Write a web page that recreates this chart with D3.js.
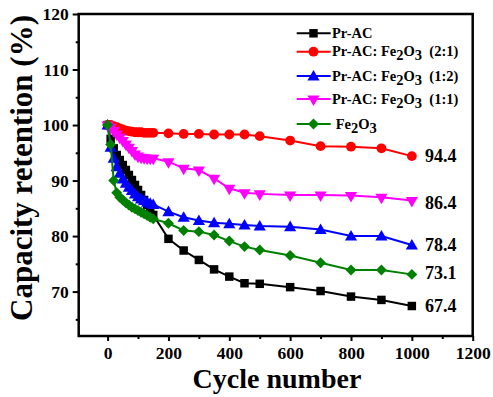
<!DOCTYPE html>
<html>
<head>
<meta charset="utf-8">
<script src="https://cdn.jsdelivr.net/npm/d3@7"></script>
<style>
  body { margin: 0; background: #fff; }
  svg text { font-family: "Liberation Serif", "Times New Roman", serif !important; font-weight: bold; }
</style>
</head>
<body>
<svg id="chart" width="493" height="397"></svg>
<script>
const cycles = [0,10,20,30,40,50,60,70,80,90,100,110,120,130,140,150,200,250,300,350,400,450,500,600,700,800,900,1000];
const prAC   = [100,97.5,95.8,94.6,93.7,92.8,91.9,91.0,90.1,89.2,88.3,87.4,86.5,85.6,84.7,83.8,79.5,77.4,75.7,74.0,72.7,71.5,71.4,70.8,70.1,69.1,68.5,67.4];
const r21    = [100,100,99.8,99.6,99.4,99.2,99.0,98.9,98.8,98.7,98.7,98.7,98.6,98.6,98.6,98.6,98.5,98.4,98.4,98.3,98.3,98.3,98.0,97.2,96.2,96.1,95.8,94.4];
const r12    = [100,96.0,94.0,92.5,91.3,90.3,89.5,88.8,88.2,87.6,87.1,86.7,86.4,86.1,85.9,85.7,84.4,83.4,82.8,82.4,82.2,82.0,81.8,81.7,81.2,80.0,80.0,78.4];
const r11    = [100,99.6,99.0,98.4,97.8,97.2,96.6,96.0,95.4,94.8,94.4,94.2,94.1,94.0,94.0,94.0,93.4,92.2,91.9,90.4,88.6,87.8,87.6,87.4,87.4,87.3,87.0,86.4];
const fe2o3  = [100,96.5,90.0,87.8,87.0,86.5,86.0,85.6,85.2,84.9,84.6,84.3,84.0,83.7,83.4,83.1,82.3,81.0,80.8,80.2,79.1,78.1,77.5,76.5,75.2,73.9,73.9,73.1];
const endLabels = ["94.4","86.4","78.4","73.1","67.4"];
const xTicks = [0,200,400,600,800,1000,1200];
const yTicks = [70,80,90,100,110,120];

const series = [
  {name: ["Pr-AC"], values: prAC, color: "#000000", shape: "square"},
  {name: ["Pr-AC: Fe", "2", "O", "3", "  (2:1)"], values: r21, color: "#ff0000", shape: "circle"},
  {name: ["Pr-AC: Fe", "2", "O", "3", "  (1:2)"], values: r12, color: "#0000ff", shape: "up"},
  {name: ["Pr-AC: Fe", "2", "O", "3", "  (1:1)"], values: r11, color: "#ff00ff", shape: "down"},
  {name: [" Fe", "2", "O", "3"], values: fe2o3, color: "#008000", shape: "diamond"}
];

const svg = d3.select("#chart");
const L = 78.7, R = 472.7, T = 14, B = 336;
const x = d3.scaleLinear().domain([-95, 1200]).range([L, R]);
const y = d3.scaleLinear().domain([62, 120]).range([B, T]);

function sym(shape) {
  const m = {square: [d3.symbolSquare, 72], circle: [d3.symbolCircle, 76], up: [d3.symbolTriangle, 64], down: [d3.symbolTriangle, 64], diamond: [d3.symbolDiamond2, 76]};
  return d3.symbol().type(m[shape][0]).size(m[shape][1]);
}
function symTransform(shape, px, py) {
  if (shape === "down") return `translate(${px},${py}) rotate(180)`;
  if (shape === "up") return `translate(${px},${py + 1})`;
  return `translate(${px},${py})`;
}

// data
const line = d3.line().x((d, i) => x(cycles[i])).y(d => y(d));
series.forEach(s => {
  svg.append("path").attr("d", line(s.values)).attr("fill", "none")
    .attr("stroke", s.color).attr("stroke-width", 2);
  svg.append("g").selectAll("path").data(s.values).join("path")
    .attr("d", sym(s.shape)())
    .attr("transform", (d, i) => symTransform(s.shape, x(cycles[i]), y(d)))
    .attr("fill", s.color);
});

// axes
const xAxis = d3.axisBottom(x).tickValues(xTicks).tickSize(5).tickPadding(6).tickFormat(d3.format("d"));
svg.append("g").attr("transform", `translate(0,${B})`).call(xAxis);
const xMinor = d3.axisBottom(x).tickValues([100,300,500,700,900,1100]).tickSize(3).tickFormat("");
svg.append("g").attr("transform", `translate(0,${B})`).call(xMinor);
const yAxis = d3.axisLeft(y).tickValues(yTicks).tickSize(6).tickPadding(4).tickFormat(d3.format("d"));
svg.append("g").attr("transform", `translate(${L},0)`).call(yAxis);
const yMinor = d3.axisLeft(y).tickValues([65,75,85,95,105,115]).tickSize(3).tickFormat("");
svg.append("g").attr("transform", `translate(${L},0)`).call(yMinor);
svg.selectAll(".tick line").attr("stroke", "#000").attr("stroke-width", 2);
svg.selectAll(".domain").remove();
svg.selectAll(".tick text").style("font-size", "17.5px").attr("fill", "#000");

// frame
svg.append("rect").attr("x", L).attr("y", T).attr("width", R - L).attr("height", B - T)
  .attr("fill", "none").attr("stroke", "#000").attr("stroke-width", 2.5);

// axis titles
svg.append("text").attr("x", 277).attr("y", 388).attr("text-anchor", "middle")
  .style("font-size", "28px").text("Cycle number");
svg.append("text").attr("transform", "translate(32,168) rotate(-90)").attr("text-anchor", "middle")
  .style("font-size", "31px").text("Capacity retention (%)");

// end labels
const endYs = [r21, r11, r12, fe2o3, prAC].map(a => a[a.length - 1]);
const endOff = [0, -0.5, 0, 0.3, 0];
endLabels.forEach((t, i) => {
  svg.append("text").attr("x", 425).attr("y", y(endYs[i] + endOff[i]) + 6)
    .style("font-size", "18px").text(t);
});

// legend
const legYs = [33.3, 51.7, 76, 99, 124];
series.forEach((s, i) => {
  const ly = legYs[i];
  svg.append("line").attr("x1", 296.7).attr("x2", 330.7).attr("y1", ly).attr("y2", ly)
    .attr("stroke", s.color).attr("stroke-width", 2);
  svg.append("path").attr("d", sym(s.shape)()).attr("transform", symTransform(s.shape, 313.5, ly)).attr("fill", s.color);
  const t = svg.append("text").attr("x", 332).attr("y", ly + 4.5).style("font-size", "14.5px").attr("xml:space", "preserve");
  s.name.forEach((part, k) => {
    const isSub = (part === "2" || part === "3");
    const prevSub = k > 0 && (s.name[k-1] === "2" || s.name[k-1] === "3");
    const ts = t.append("tspan").text(part);
    if (isSub && !prevSub) ts.attr("dy", 4);
    else if (!isSub && prevSub) ts.attr("dy", -4);
  });
});
</script>
</body>
</html>
